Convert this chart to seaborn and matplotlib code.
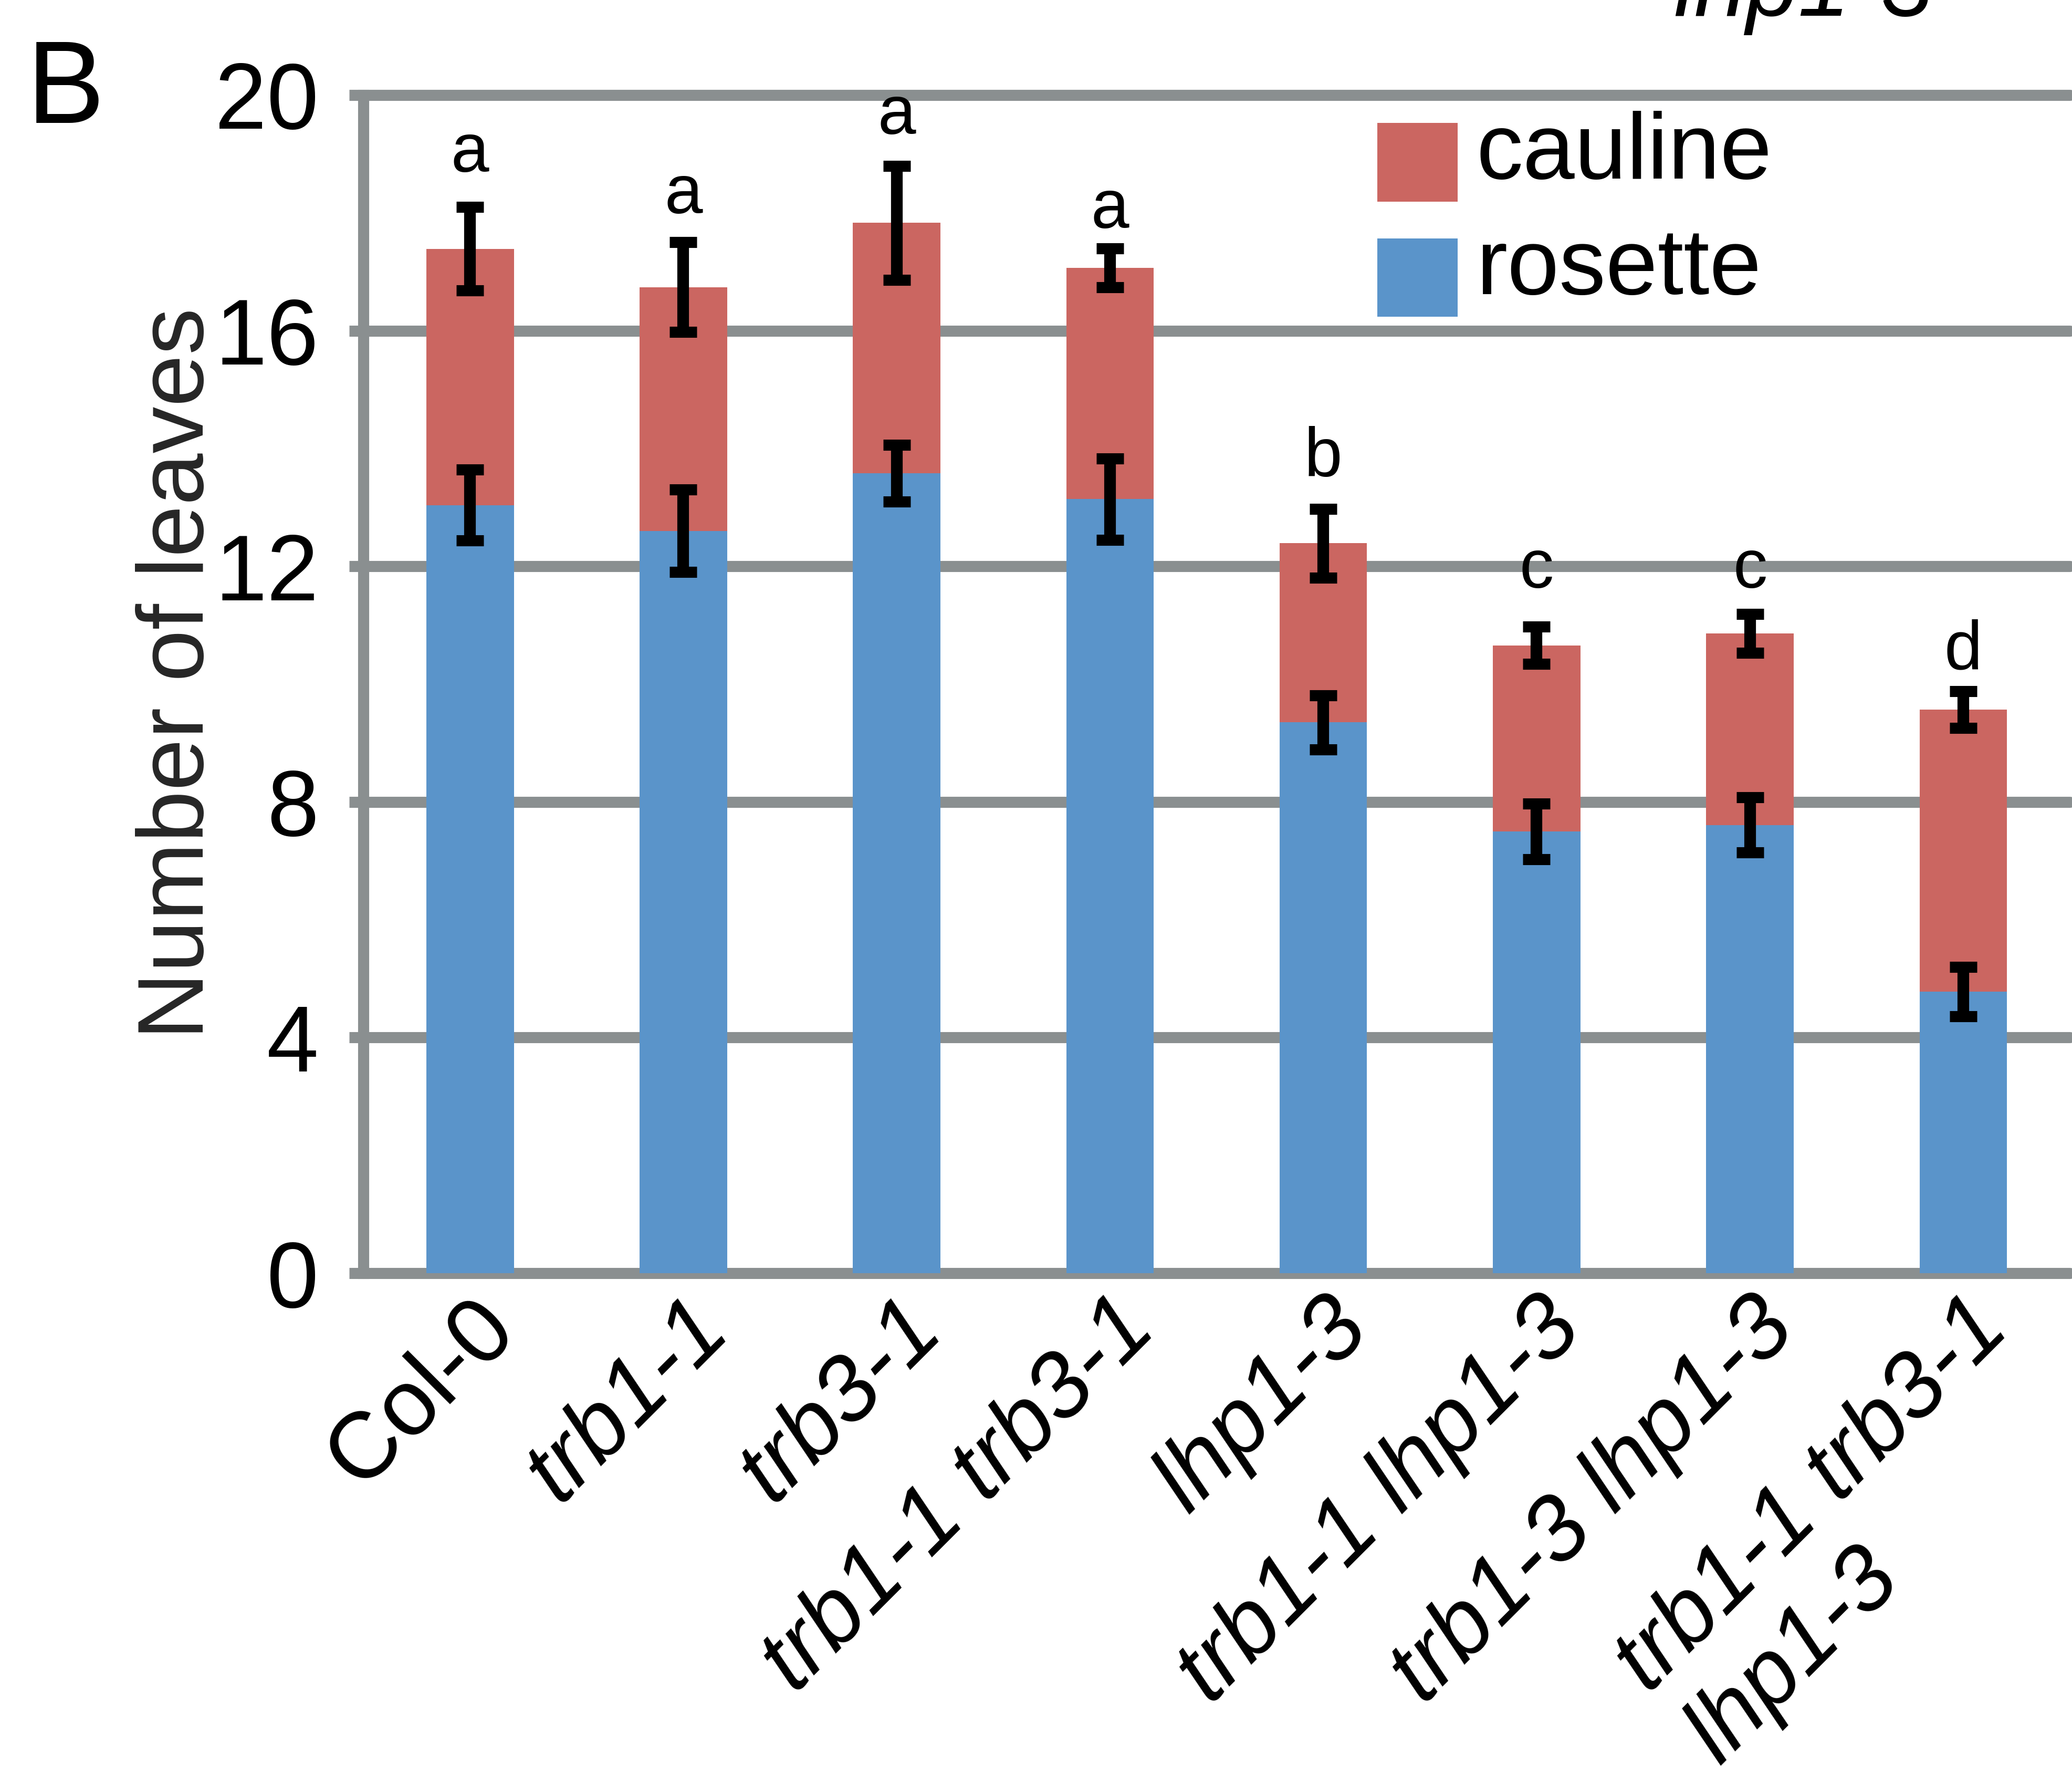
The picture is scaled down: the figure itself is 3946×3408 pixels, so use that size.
import numpy as np
import matplotlib.pyplot as plt
from matplotlib.patches import Patch, Rectangle
from matplotlib.legend_handler import HandlerPatch
import seaborn as sns

# values (number of leaves at bolting)
genotypes = ['Col-0', 'trb1-1', 'trb3-1', 'trb1-1 trb3-1', 'lhp1-3',
             'trb1-1 lhp1-3', 'trb1-3 lhp1-3', 'trb1-1 trb3-1\nlhp1-3']
rosette = [13.04, 12.60, 13.58, 13.14, 9.35, 7.50, 7.61, 4.78]
rosette_err = [0.60, 0.70, 0.48, 0.69, 0.46, 0.47, 0.47, 0.42]
total = [17.39, 16.74, 17.83, 17.07, 12.39, 10.66, 10.86, 9.57]
total_err = [0.71, 0.76, 0.97, 0.33, 0.58, 0.32, 0.33, 0.31]
letters = ['a', 'a', 'a', 'a', 'b', 'c', 'c', 'd']
letter_y = [18.70, 17.99, 19.34, 17.74, 13.53, 11.64, 11.64, 10.25]
yticks = [0, 4, 8, 12, 16, 20]

red = '#cb6661'
blue = '#5a94ca'
gray = '#8a8f90'
lw = 7.6

sns.set_style('white')
plt.rcParams['font.family'] = ['Liberation Sans', 'DejaVu Sans']
plt.rcParams['text.color'] = 'black'
plt.rcParams['xtick.color'] = 'black'
plt.rcParams['ytick.color'] = 'black'

fig = plt.figure(figsize=(19.73, 17.04), dpi=200)
ax = fig.add_axes([0.1754, 0.2887, 0.8236, 0.6582])

# stacked bars: total (cauline on top) first, rosette over it
sns.barplot(x=genotypes, y=total, color=red, width=0.41, saturation=1,
            errorbar=None, ax=ax)
sns.barplot(x=genotypes, y=rosette, color=blue, width=0.41, saturation=1,
            errorbar=None, ax=ax)
for p in ax.patches:
    p.set_linewidth(0)

pos = np.arange(len(genotypes))
ax.errorbar(pos, total, yerr=total_err, fmt='none', ecolor='black',
            elinewidth=8, capsize=9.4, capthick=lw, zorder=5)
ax.errorbar(pos, rosette, yerr=rosette_err, fmt='none', ecolor='black',
            elinewidth=8, capsize=9.4, capthick=lw, zorder=5)

for i, (lt, ly) in enumerate(zip(letters, letter_y)):
    ax.text(i, ly, lt, ha='center', va='baseline', fontsize=47)

ax.set_xlim(-0.5, 7.5)
ax.set_ylim(0, 20)
ax.set_yticks(yticks)
ax.set_axisbelow(True)
ax.yaxis.grid(True, color=gray, linewidth=lw)
ax.xaxis.grid(False)
for gl in ax.get_ygridlines():
    gl.set_clip_on(False)

for s in ['top', 'right', 'bottom']:
    ax.spines[s].set_visible(False)
ax.spines['left'].set_color(gray)
ax.spines['left'].set_linewidth(lw)

ax.tick_params(axis='y', length=9.7, width=lw, color=gray, pad=21, labelsize=64, left=True)
ax.tick_params(axis='x', length=0, pad=7)
ax.set_xticks(pos)
ax.set_xticklabels(genotypes, rotation=45, ha='right', va='top',
                   rotation_mode='anchor', multialignment='left', fontsize=64)
for lab in ax.get_xticklabels()[1:]:
    lab.set_style('italic')

ax.set_xlabel('')
ax.set_ylabel('Number of leaves', fontsize=64)
ax.yaxis.set_label_coords(-0.0825, 0.509)


# legend squares sit a little lower than matplotlib's default centring
def low_square(legend, orig_handle, xdescent, ydescent, width, height, fontsize):
    return Rectangle((-xdescent, -ydescent - 0.17 * fontsize), width, height)


handles = [Patch(facecolor=red, linewidth=0, label='cauline'),
           Patch(facecolor=blue, linewidth=0, label='rosette')]
fig.legend(handles=handles, loc='upper left',
           bbox_to_anchor=(2623 / 3946, 1 - 204 / 3408),
           frameon=False, fontsize=64, handlelength=0.86, handleheight=0.92,
           handletextpad=0.2, labelspacing=0.26, borderpad=0, borderaxespad=0,
           handler_map={Patch: HandlerPatch(patch_func=low_square)})

fig.text(0.0129, 0.9313, 'B', fontsize=80, ha='left', va='baseline')
fig.text(0.8077, 0.9912, 'lhp1-3', fontsize=64, style='italic', ha='left', va='baseline')

fig.savefig('out.png', dpi=200)
